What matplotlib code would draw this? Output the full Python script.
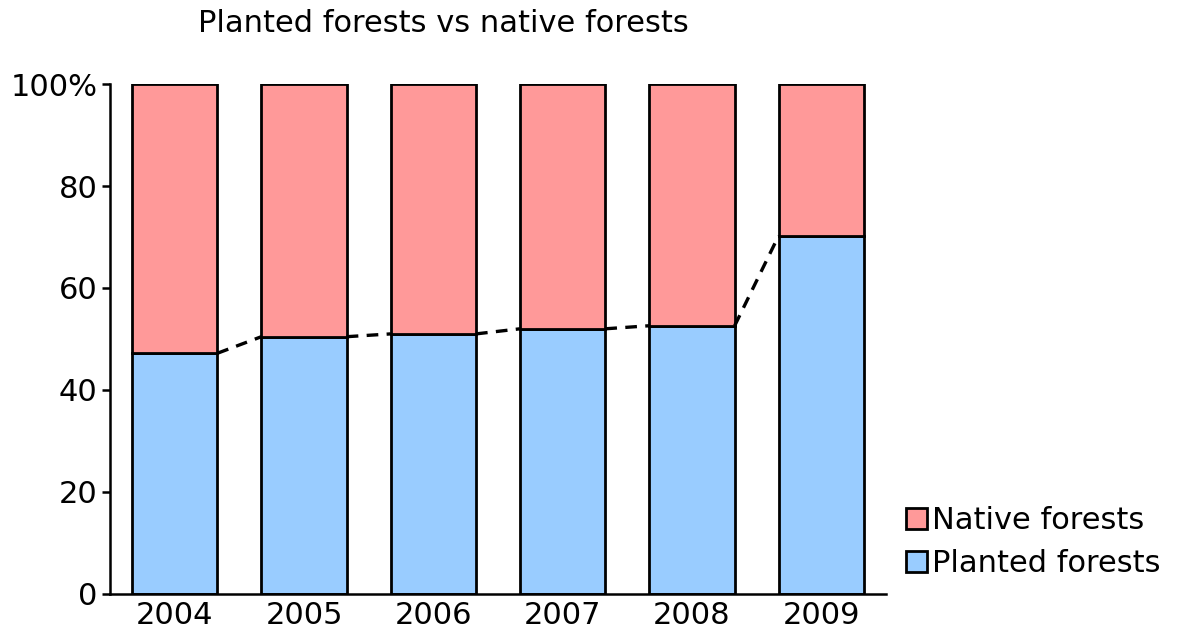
import matplotlib.pyplot as plt
import numpy as np

anos = ["2004", "2005", "2006", "2007", "2008", "2009"]
plantadas = [47.2, 50.45, 51.0, 52.0, 52.6, 70.25]
nativas = [100 - p for p in plantadas]

cor_plantadas = "#99ccff"
cor_nativas = "#ff9999"
largura = 0.66
tam_fonte = 22

plt.rcParams['font.family'] = ['DejaVu Sans']

fig = plt.figure(figsize=(11.78, 6.35), dpi=100)
ax = fig.add_axes([0.0934, 0.0646, 0.6587, 0.8031])

x = np.arange(len(anos))
b1 = ax.bar(x, plantadas, width=largura, color=cor_plantadas,
            edgecolor='black', linewidth=2, label='Planted forests', zorder=2)
b2 = ax.bar(x, nativas, width=largura, bottom=plantadas, color=cor_nativas,
            edgecolor='black', linewidth=2, label='Native forests', zorder=2)

# linhas tracejadas ligando o topo das barras plantadas
for i in range(len(anos) - 1):
    ax.plot([x[i] + largura / 2, x[i + 1] - largura / 2],
            [plantadas[i], plantadas[i + 1]],
            color='black', linestyle=(0, (3.5, 2.5)), linewidth=2.4, zorder=3)

ax.set_xlim(-0.5, len(anos) - 0.5)
ax.set_ylim(0, 100)
ax.set_xticks(x)
ax.set_xticklabels(anos)
ax.set_yticks([0, 20, 40, 60, 80, 100])
ax.set_yticklabels(["0", "20", "40", "60", "80", "100%"])
ax.tick_params(axis='x', length=0, labelsize=tam_fonte, pad=5)
ax.tick_params(axis='y', length=6, width=1.8, labelsize=tam_fonte, pad=3)

for lado in ['top', 'right']:
    ax.spines[lado].set_visible(False)
for lado in ['left', 'bottom']:
    ax.spines[lado].set_linewidth(1.8)

fig.text(0.376, 0.963, 'Planted forests vs native forests',
         ha='center', va='center', fontsize=tam_fonte)

fig.legend(handles=[b2, b1], labels=['Native forests', 'Planted forests'],
           loc='center left', bbox_to_anchor=(0.769, 0.146), frameon=False,
           fontsize=tam_fonte, handlelength=0.7, handleheight=0.7,
           handletextpad=0.15, labelspacing=0.46, borderpad=0, borderaxespad=0)

plt.savefig('out.png', dpi=100)
